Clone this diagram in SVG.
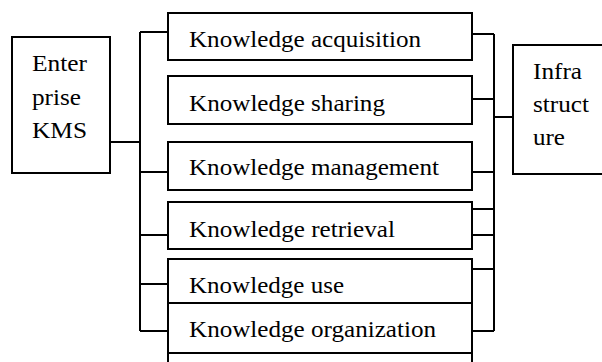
<svg xmlns="http://www.w3.org/2000/svg" width="602" height="362" viewBox="0 0 602 362">
<style>
.box{fill:#fff;stroke:#000;stroke-width:2}
.ln{fill:none;stroke:#000;stroke-width:2}
.t{font-family:'Times New Roman',Times,Tinos,'Liberation Serif','DejaVu Serif','Noto Serif',serif;font-size:23px;fill:#000}
</style>
<rect width="602" height="362" fill="#fff"/>
<g id="connectors">
<path class="ln" d="M110,142H140M140,32V331M140,32H168M140,172H168M140,235H168M140,284H168M140,331H168"/>
<path class="ln" d="M472,34H494M472,99H494M472,172H494M472,209H494M472,235H494M472,269H494M472,331H494M494,34V331M494,117H513"/>
</g>
<g id="enterprise">
<rect class="box" x="12" y="37" width="98" height="136"/>
<text class="t" x="32" y="71" textLength="55" lengthAdjust="spacingAndGlyphs">Enter</text>
<text class="t" x="32" y="104.5" textLength="49" lengthAdjust="spacingAndGlyphs">prise</text>
<text class="t" x="32" y="138" textLength="55" lengthAdjust="spacingAndGlyphs">KMS</text>
</g>
<g id="infrastructure">
<rect class="box" x="513" y="45" width="100" height="129"/>
<text class="t" x="533" y="79" textLength="49" lengthAdjust="spacingAndGlyphs">Infra</text>
<text class="t" x="533" y="112" textLength="56" lengthAdjust="spacingAndGlyphs">struct</text>
<text class="t" x="533" y="145" textLength="32" lengthAdjust="spacingAndGlyphs">ure</text>
</g>
<g id="acquisition">
<rect class="box" x="168" y="13" width="304" height="47"/>
<text class="t" x="189" y="47" textLength="232" lengthAdjust="spacingAndGlyphs">Knowledge acquisition</text>
</g>
<g id="sharing">
<rect class="box" x="168" y="76" width="304" height="48"/>
<text class="t" x="189" y="111" textLength="196" lengthAdjust="spacingAndGlyphs">Knowledge sharing</text>
</g>
<g id="management">
<rect class="box" x="168" y="142" width="304" height="48"/>
<text class="t" x="189" y="175" textLength="250" lengthAdjust="spacingAndGlyphs">Knowledge management</text>
</g>
<g id="retrieval">
<rect class="box" x="168" y="202" width="304" height="47"/>
<text class="t" x="189" y="237" textLength="206" lengthAdjust="spacingAndGlyphs">Knowledge retrieval</text>
</g>
<g id="use">
<rect class="box" x="168" y="259" width="304" height="44"/>
<text class="t" x="189" y="293" textLength="155" lengthAdjust="spacingAndGlyphs">Knowledge use</text>
</g>
<g id="organization">
<rect class="box" x="168" y="303" width="304" height="50"/>
<text class="t" x="189" y="337" textLength="247" lengthAdjust="spacingAndGlyphs">Knowledge organization</text>
</g>
<g id="bottom-box">
<rect class="box" x="168" y="353" width="304" height="30"/>
</g>
</svg>
